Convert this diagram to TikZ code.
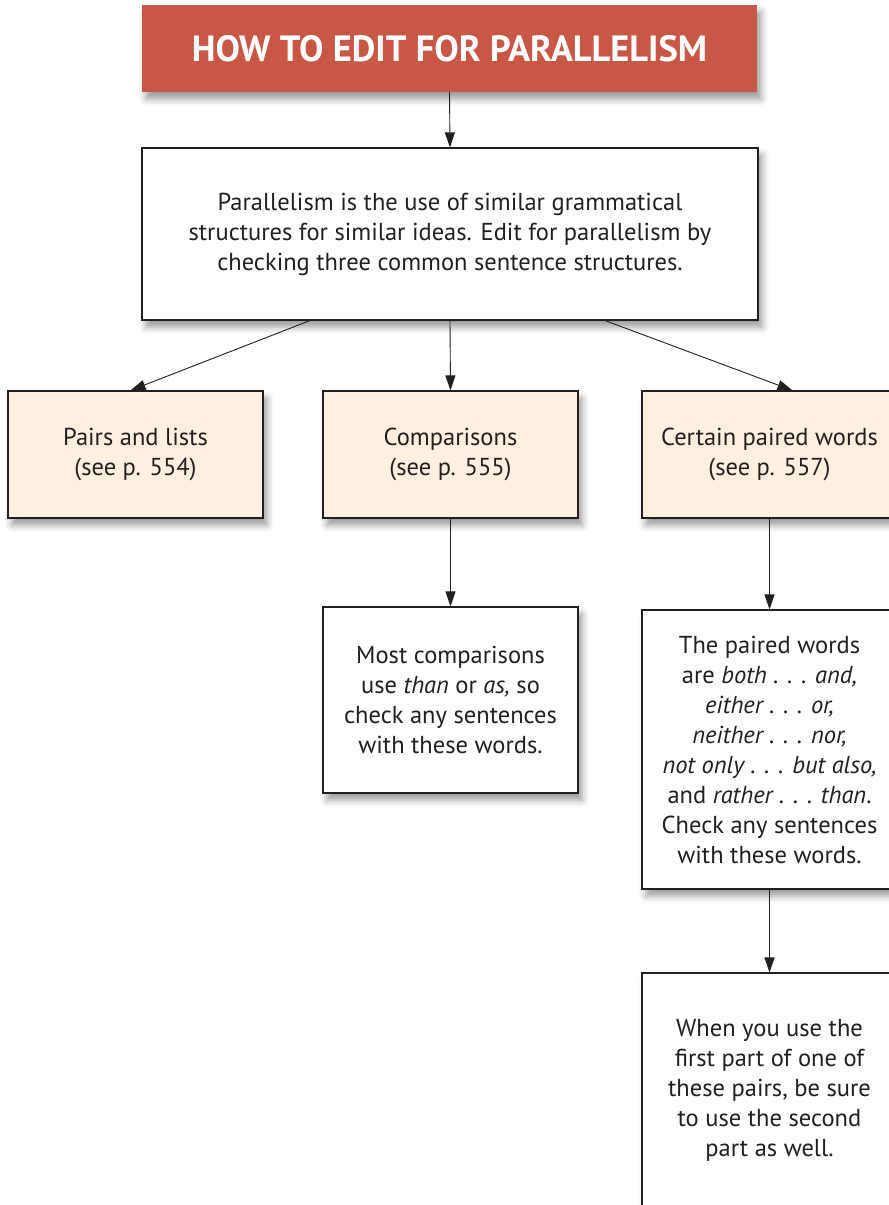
\documentclass[tikz,border=0pt]{standalone}
\usepackage{fontspec}
\setmainfont{PT Sans}
\usetikzlibrary{arrows.meta,shadows.blur}
\definecolor{titlered}{HTML}{C85745}
\definecolor{beige}{HTML}{FDF0E1}
\definecolor{ink}{HTML}{231F20}
\begin{document}
\begin{tikzpicture}[x=1pt,y=-1pt,
  box/.style={draw=ink, line width=1.1pt, fill=white, inner sep=0pt, align=center,
    text=ink, font=\fontsize{24.5}{30}\selectfont,
    blur shadow={shadow xshift=4pt, shadow yshift=-7pt, shadow blur radius=7pt, shadow opacity=40}},
  topicbox/.style={box, fill=beige, minimum width=255pt, minimum height=127pt},
  titlebox/.style={fill=titlered, inner sep=0pt, minimum width=615pt, minimum height=87pt,
    text=white, font=\fontsize{36.5}{40}\bfseries\selectfont,
    blur shadow={shadow xshift=4pt, shadow yshift=-7pt, shadow blur radius=7pt, shadow opacity=40}},
  conn/.style={draw=ink, line width=0.9pt, -{Triangle[length=15pt,width=10pt]}}]
\path[use as bounding box, clip] (0,0) rectangle (889,1205);
\node[titlebox] (title) at (449.5,48.5) {HOW TO EDIT FOR PARALLELISM};
\node[box, minimum width=616pt, minimum height=172pt] (main) at (450,234)
  {Parallelism is the use of similar grammatical\\structures for similar ideas. Edit for parallelism by\\checking three common sentence structures.};
\node[topicbox] (A) at (135.5,454.5) {Pairs and lists\\(see p. 554)};
\node[topicbox] (B) at (450.5,454.5) {Comparisons\\(see p. 555)};
\node[topicbox] (C) at (769.5,454.5) {Certain paired words\\(see p. 557)};
\node[box, minimum width=255pt, minimum height=186pt] (D) at (450.5,700)
  {Most comparisons\\use \textit{than} or \textit{as,} so\\check any sentences\\with these words.};
\node[box, minimum width=255pt, minimum height=279pt] (E) at (769.5,749.5)
  {The paired words\\are \textit{both . . . and,}\\\textit{either . . . or,}\\\textit{neither . . . nor,}\\\textit{not only . . . but also,}\\and \textit{rather . . . than}.\\Check any sentences\\with these words.};
\node[box, minimum width=255pt, minimum height=234pt] (F) at (769.5,1090)
  {When you use the\\first part of one of\\these pairs, be sure\\to use the second\\part as well.};
\draw[conn] (title.south) -- (main.north);
\draw[conn] ([xshift=-140pt]main.south) -- ([xshift=-5pt]A.north);
\draw[conn] (main.south) -- (B.north);
\draw[conn] ([xshift=155pt]main.south) -- ([xshift=23pt]C.north);
\draw[conn] (B.south) -- (D.north);
\draw[conn] (C.south) -- (E.north);
\draw[conn] (E.south) -- (F.north);
\end{tikzpicture}
\end{document}
